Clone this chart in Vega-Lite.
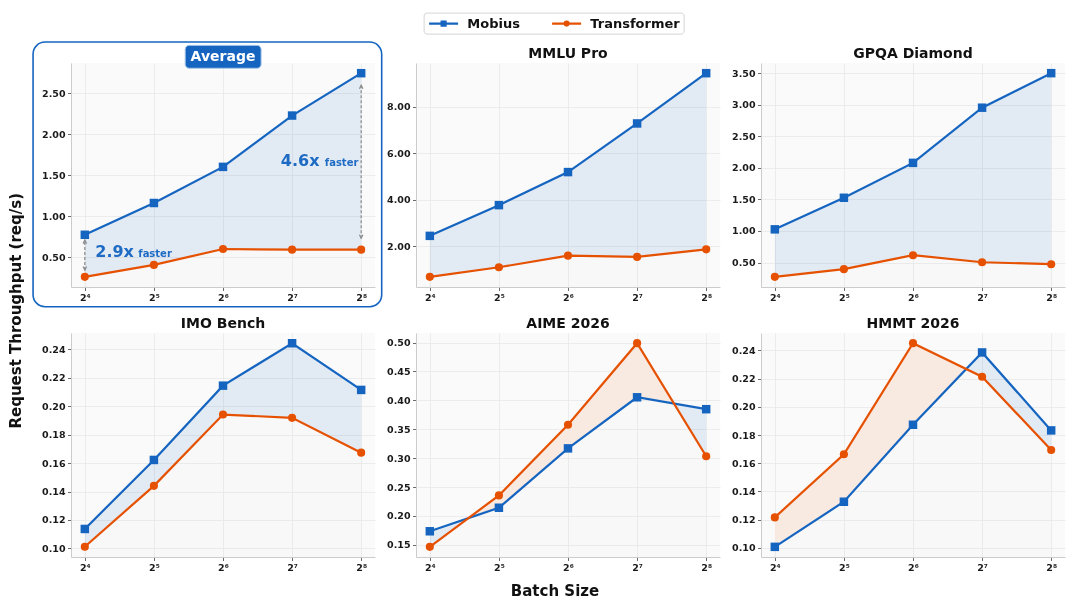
{
  "$schema": "https://vega.github.io/schema/vega-lite/v6.json",
  "background": "white",
  "padding": {"left": 8, "top": 12, "right": 5, "bottom": 5},
  "data": {
    "values": [
      {"panel": "Average", "model": "Mobius", "batch": 16, "value": 0.774},
      {"panel": "Average", "model": "Mobius", "batch": 32, "value": 1.161},
      {"panel": "Average", "model": "Mobius", "batch": 64, "value": 1.601},
      {"panel": "Average", "model": "Mobius", "batch": 128, "value": 2.226},
      {"panel": "Average", "model": "Mobius", "batch": 256, "value": 2.742},
      {"panel": "Average", "model": "Transformer", "batch": 16, "value": 0.262},
      {"panel": "Average", "model": "Transformer", "batch": 32, "value": 0.407},
      {"panel": "Average", "model": "Transformer", "batch": 64, "value": 0.601},
      {"panel": "Average", "model": "Transformer", "batch": 128, "value": 0.593},
      {"panel": "Average", "model": "Transformer", "batch": 256, "value": 0.593},
      {"panel": "MMLU Pro", "model": "Mobius", "batch": 16, "value": 2.45},
      {"panel": "MMLU Pro", "model": "Mobius", "batch": 32, "value": 3.77},
      {"panel": "MMLU Pro", "model": "Mobius", "batch": 64, "value": 5.19},
      {"panel": "MMLU Pro", "model": "Mobius", "batch": 128, "value": 7.28},
      {"panel": "MMLU Pro", "model": "Mobius", "batch": 256, "value": 9.44},
      {"panel": "MMLU Pro", "model": "Transformer", "batch": 16, "value": 0.69},
      {"panel": "MMLU Pro", "model": "Transformer", "batch": 32, "value": 1.10},
      {"panel": "MMLU Pro", "model": "Transformer", "batch": 64, "value": 1.60},
      {"panel": "MMLU Pro", "model": "Transformer", "batch": 128, "value": 1.545},
      {"panel": "MMLU Pro", "model": "Transformer", "batch": 256, "value": 1.87},
      {"panel": "GPQA Diamond", "model": "Mobius", "batch": 16, "value": 1.026},
      {"panel": "GPQA Diamond", "model": "Mobius", "batch": 32, "value": 1.526},
      {"panel": "GPQA Diamond", "model": "Mobius", "batch": 64, "value": 2.079},
      {"panel": "GPQA Diamond", "model": "Mobius", "batch": 128, "value": 2.953},
      {"panel": "GPQA Diamond", "model": "Mobius", "batch": 256, "value": 3.50},
      {"panel": "GPQA Diamond", "model": "Transformer", "batch": 16, "value": 0.274},
      {"panel": "GPQA Diamond", "model": "Transformer", "batch": 32, "value": 0.395},
      {"panel": "GPQA Diamond", "model": "Transformer", "batch": 64, "value": 0.616},
      {"panel": "GPQA Diamond", "model": "Transformer", "batch": 128, "value": 0.505},
      {"panel": "GPQA Diamond", "model": "Transformer", "batch": 256, "value": 0.474},
      {"panel": "IMO Bench", "model": "Mobius", "batch": 16, "value": 0.1137},
      {"panel": "IMO Bench", "model": "Mobius", "batch": 32, "value": 0.1622},
      {"panel": "IMO Bench", "model": "Mobius", "batch": 64, "value": 0.2144},
      {"panel": "IMO Bench", "model": "Mobius", "batch": 128, "value": 0.2442},
      {"panel": "IMO Bench", "model": "Mobius", "batch": 256, "value": 0.2114},
      {"panel": "IMO Bench", "model": "Transformer", "batch": 16, "value": 0.1012},
      {"panel": "IMO Bench", "model": "Transformer", "batch": 32, "value": 0.144},
      {"panel": "IMO Bench", "model": "Transformer", "batch": 64, "value": 0.1941},
      {"panel": "IMO Bench", "model": "Transformer", "batch": 128, "value": 0.1918},
      {"panel": "IMO Bench", "model": "Transformer", "batch": 256, "value": 0.1673},
      {"panel": "AIME 2026", "model": "Mobius", "batch": 16, "value": 0.1735},
      {"panel": "AIME 2026", "model": "Mobius", "batch": 32, "value": 0.2142},
      {"panel": "AIME 2026", "model": "Mobius", "batch": 64, "value": 0.3169},
      {"panel": "AIME 2026", "model": "Mobius", "batch": 128, "value": 0.4053},
      {"panel": "AIME 2026", "model": "Mobius", "batch": 256, "value": 0.3847},
      {"panel": "AIME 2026", "model": "Transformer", "batch": 16, "value": 0.1466},
      {"panel": "AIME 2026", "model": "Transformer", "batch": 32, "value": 0.2355},
      {"panel": "AIME 2026", "model": "Transformer", "batch": 64, "value": 0.3577},
      {"panel": "AIME 2026", "model": "Transformer", "batch": 128, "value": 0.4989},
      {"panel": "AIME 2026", "model": "Transformer", "batch": 256, "value": 0.3032},
      {"panel": "HMMT 2026", "model": "Mobius", "batch": 16, "value": 0.1007},
      {"panel": "HMMT 2026", "model": "Mobius", "batch": 32, "value": 0.1327},
      {"panel": "HMMT 2026", "model": "Mobius", "batch": 64, "value": 0.1873},
      {"panel": "HMMT 2026", "model": "Mobius", "batch": 128, "value": 0.2386},
      {"panel": "HMMT 2026", "model": "Mobius", "batch": 256, "value": 0.1833},
      {"panel": "HMMT 2026", "model": "Transformer", "batch": 16, "value": 0.1216},
      {"panel": "HMMT 2026", "model": "Transformer", "batch": 32, "value": 0.1664},
      {"panel": "HMMT 2026", "model": "Transformer", "batch": 64, "value": 0.2452},
      {"panel": "HMMT 2026", "model": "Transformer", "batch": 128, "value": 0.2214},
      {"panel": "HMMT 2026", "model": "Transformer", "batch": 256, "value": 0.1694}
    ]
  },
  "bounds": "flush",
  "align": "all",
  "columns": 3,
  "spacing": {"row": 46, "column": 41},
  "concat": [
    {
      "width": 304, "height": 224,
      "layer": [
        {
          "transform": [{"filter": "datum.panel == 'Average'"}],
          "encoding": {"x": {"field": "batch", "type": "quantitative", "scale": {"type": "log", "base": 2, "domain": [13.929, 294.07], "nice": false}, "axis": {"values": [16, 32, 64, 128, 256], "labelExpr": "'2' + (datum.value == 16 ? '⁴' : datum.value == 32 ? '⁵' : datum.value == 64 ? '⁶' : datum.value == 128 ? '⁷' : '⁸')", "title": null}}},
          "layer": [
            {
              "transform": [{"pivot": "model", "value": "value", "groupby": ["batch"]}],
              "layer": [
                {"mark": {"type": "area", "blend": "multiply", "fill": "rgb(225,219,220)"}, "encoding": {"y": {"field": "Mobius", "type": "quantitative", "scale": {"domain": [0.138, 2.866], "zero": false, "nice": false}, "axis": {"values": [0.5, 1, 1.5, 2, 2.5], "format": ".2f", "title": "Request Throughput (req/s)", "titleFontSize": 15, "titleY": 247.3, "titlePadding": 17.7}}, "y2": {"datum": 0.138}}},
                {"mark": {"type": "area", "blend": "color-dodge", "fill": "rgb(30,36,35)"}, "encoding": {"y": {"field": "Transformer", "type": "quantitative", "scale": {"domain": [0.138, 2.866], "zero": false, "nice": false}}, "y2": {"datum": 0.138}}},
                {"mark": {"type": "area", "blend": "multiply", "fill": "rgb(248,233,225)"}, "encoding": {"y": {"field": "Transformer", "type": "quantitative", "scale": {"domain": [0.138, 2.866], "zero": false, "nice": false}}, "y2": {"datum": 0.138}}},
                {"mark": {"type": "area", "blend": "color-dodge", "fill": "rgb(7,22,30)"}, "encoding": {"y": {"field": "Mobius", "type": "quantitative", "scale": {"domain": [0.138, 2.866], "zero": false, "nice": false}}, "y2": {"datum": 0.138}}}
              ]
            },
            {"mark": {"type": "line", "strokeWidth": 2.2}, "encoding": {"y": {"field": "value", "type": "quantitative", "scale": {"domain": [0.138, 2.866], "zero": false, "nice": false}}, "color": {"field": "model", "type": "nominal", "scale": {"domain": ["Mobius", "Transformer"], "range": ["#1565c0", "#e65100"]}}}},
            {"transform": [{"filter": "datum.model == 'Mobius'"}], "mark": {"type": "point", "shape": "square", "filled": true, "opacity": 1, "size": 72}, "encoding": {"y": {"field": "value", "type": "quantitative", "scale": {"domain": [0.138, 2.866], "zero": false, "nice": false}}, "color": {"field": "model", "type": "nominal"}}},
            {"transform": [{"filter": "datum.model == 'Transformer'"}], "mark": {"type": "point", "shape": "circle", "filled": true, "opacity": 1, "size": 66}, "encoding": {"y": {"field": "value", "type": "quantitative", "scale": {"domain": [0.138, 2.866], "zero": false, "nice": false}}, "color": {"field": "model", "type": "nominal"}}},
            {"mark": {"type": "point", "filled": false, "opacity": 0}, "encoding": {"y": {"field": "value", "type": "quantitative", "scale": {"domain": [0.138, 2.866], "zero": false, "nice": false}}, "color": {"field": "model", "type": "nominal", "scale": {"domain": ["Mobius", "Transformer"], "range": ["#1565c0", "#e65100"]}, "legend": {"orient": "none", "legendX": 352.6, "legendY": -50.4, "direction": "horizontal", "title": null, "labelFont": "DejaVu Sans", "labelFontSize": 13, "labelFontWeight": "bold", "labelColor": "#111111", "labelOffset": 15.7, "columnPadding": 27, "symbolSize": 169, "symbolOffset": 9, "symbolStrokeWidth": 2.2, "symbolOpacity": 1, "padding": 3, "fillColor": "white", "strokeColor": "#d4d4d4", "cornerRadius": 3}}, "shape": {"field": "model", "type": "nominal", "scale": {"domain": ["Mobius", "Transformer"], "range": ["M-2.23,0H2.23M-0.3,-0.3H0.3V0.3H-0.3Z", "M-2.23,0H2.23M0.3,0A0.3,0.3,0,1,1,-0.3,0A0.3,0.3,0,1,1,0.3,0Z"]}, "legend": {"orient": "none", "legendX": 352.6, "legendY": -50.4, "direction": "horizontal", "title": null, "labelFont": "DejaVu Sans", "labelFontSize": 13, "labelFontWeight": "bold", "labelColor": "#111111", "labelOffset": 15.7, "columnPadding": 27, "symbolSize": 169, "symbolOffset": 9, "symbolStrokeWidth": 2.2, "symbolOpacity": 1, "padding": 3, "fillColor": "white", "strokeColor": "#d4d4d4", "cornerRadius": 3}}}}
          ]
        },
        {"data": {"values": [{"n": 1}]}, "mark": {"type": "rect", "filled": false, "stroke": "#1565c0", "strokeWidth": 1.6, "cornerRadius": 12}, "encoding": {"x": {"datum": 9.52, "scale": {"type": "log", "base": 2, "domain": [13.929, 294.07], "nice": false}}, "x2": {"datum": 314.5}, "y": {"datum": -0.102, "scale": {"domain": [0.138, 2.866], "zero": false, "nice": false}}, "y2": {"datum": 3.121}}},
        {"data": {"values": [{"n": 1}]}, "mark": {"type": "rect", "fill": "#1565c0", "stroke": "#a9c7ea", "strokeWidth": 1, "cornerRadius": 4}, "encoding": {"x": {"datum": 43.8}, "x2": {"datum": 93.8}, "y": {"datum": 2.802}, "y2": {"datum": 3.081}}},
        {"data": {"values": [{"n": 1}]}, "mark": {"type": "text", "text": "Average", "color": "white", "fontSize": 14, "fontWeight": "bold", "align": "center", "baseline": "middle"}, "encoding": {"x": {"datum": 64}, "y": {"datum": 2.941}}},
        {"data": {"values": [{"n": 1}]}, "mark": {"type": "rule", "color": "#8a8a8a", "strokeWidth": 1.2, "strokeDash": [3, 2]}, "encoding": {"x": {"datum": 16}, "y": {"datum": 0.344}, "y2": {"datum": 0.709}}},
        {"data": {"values": [{"n": 1}]}, "mark": {"type": "rule", "color": "#8a8a8a", "strokeWidth": 1.2, "strokeDash": [3, 2]}, "encoding": {"x": {"datum": 256}, "y": {"datum": 0.733}, "y2": {"datum": 2.595}}},
        {"data": {"values": [{"n": 1}]}, "mark": {"type": "point", "shape": "M-0.7,1.4L0,0L0.7,1.4", "filled": false, "stroke": "#8a8a8a", "strokeWidth": 1.2, "size": 25, "opacity": 1}, "encoding": {"x": {"datum": 16}, "y": {"datum": 0.709}}},
        {"data": {"values": [{"n": 1}]}, "mark": {"type": "point", "shape": "M-0.7,-1.4L0,0L0.7,-1.4", "filled": false, "stroke": "#8a8a8a", "strokeWidth": 1.2, "size": 25, "opacity": 1}, "encoding": {"x": {"datum": 16}, "y": {"datum": 0.344}}},
        {"data": {"values": [{"n": 1}]}, "mark": {"type": "point", "shape": "M-0.7,1.4L0,0L0.7,1.4", "filled": false, "stroke": "#8a8a8a", "strokeWidth": 1.2, "size": 25, "opacity": 1}, "encoding": {"x": {"datum": 256}, "y": {"datum": 2.595}}},
        {"data": {"values": [{"n": 1}]}, "mark": {"type": "point", "shape": "M-0.7,-1.4L0,0L0.7,-1.4", "filled": false, "stroke": "#8a8a8a", "strokeWidth": 1.2, "size": 25, "opacity": 1}, "encoding": {"x": {"datum": 256}, "y": {"datum": 0.733}}},
        {"data": {"values": [{"n": 1}]}, "mark": {"type": "text", "text": "2.9x", "color": "#1e6bc4", "fontSize": 16, "fontWeight": "bold", "align": "left", "baseline": "alphabetic"}, "encoding": {"x": {"datum": 17.77}, "y": {"datum": 0.502}}},
        {"data": {"values": [{"n": 1}]}, "mark": {"type": "text", "text": "faster", "color": "#1e6bc4", "fontSize": 10, "fontWeight": "bold", "align": "left", "baseline": "alphabetic", "dx": 43}, "encoding": {"x": {"datum": 17.77}, "y": {"datum": 0.502}}},
        {"data": {"values": [{"n": 1}]}, "mark": {"type": "text", "text": "4.6x", "color": "#1e6bc4", "fontSize": 16, "fontWeight": "bold", "align": "left", "baseline": "alphabetic"}, "encoding": {"x": {"datum": 114.3}, "y": {"datum": 1.609}}},
        {"data": {"values": [{"n": 1}]}, "mark": {"type": "text", "text": "faster", "color": "#1e6bc4", "fontSize": 10, "fontWeight": "bold", "align": "left", "baseline": "alphabetic", "dx": 44}, "encoding": {"x": {"datum": 114.3}, "y": {"datum": 1.609}}}
      ]
    },
    {
      "title": "MMLU Pro",
      "width": 304, "height": 224,
      "transform": [{"filter": "datum.panel == 'MMLU Pro'"}],
      "encoding": {"x": {"field": "batch", "type": "quantitative", "scale": {"type": "log", "base": 2, "domain": [13.929, 294.07], "nice": false}, "axis": {"values": [16, 32, 64, 128, 256], "labelExpr": "'2' + (datum.value == 16 ? '⁴' : datum.value == 32 ? '⁵' : datum.value == 64 ? '⁶' : datum.value == 128 ? '⁷' : '⁸')", "title": null}}},
      "layer": [
        {
          "transform": [{"pivot": "model", "value": "value", "groupby": ["batch"]}],
          "layer": [
            {"mark": {"type": "area", "blend": "multiply", "fill": "rgb(225,219,220)"}, "encoding": {"y": {"field": "Mobius", "type": "quantitative", "scale": {"domain": [0.2525, 9.8775], "zero": false, "nice": false}, "axis": {"values": [2, 4, 6, 8], "format": ".2f", "title": null}}, "y2": {"datum": 0.2525}}},
            {"mark": {"type": "area", "blend": "color-dodge", "fill": "rgb(30,36,35)"}, "encoding": {"y": {"field": "Transformer", "type": "quantitative", "scale": {"domain": [0.2525, 9.8775], "zero": false, "nice": false}}, "y2": {"datum": 0.2525}}},
            {"mark": {"type": "area", "blend": "multiply", "fill": "rgb(248,233,225)"}, "encoding": {"y": {"field": "Transformer", "type": "quantitative", "scale": {"domain": [0.2525, 9.8775], "zero": false, "nice": false}}, "y2": {"datum": 0.2525}}},
            {"mark": {"type": "area", "blend": "color-dodge", "fill": "rgb(7,22,30)"}, "encoding": {"y": {"field": "Mobius", "type": "quantitative", "scale": {"domain": [0.2525, 9.8775], "zero": false, "nice": false}}, "y2": {"datum": 0.2525}}}
          ]
        },
        {"mark": {"type": "line", "strokeWidth": 2.2}, "encoding": {"y": {"field": "value", "type": "quantitative", "scale": {"domain": [0.2525, 9.8775], "zero": false, "nice": false}}, "color": {"field": "model", "type": "nominal"}}},
        {"transform": [{"filter": "datum.model == 'Mobius'"}], "mark": {"type": "point", "shape": "square", "filled": true, "opacity": 1, "size": 72}, "encoding": {"y": {"field": "value", "type": "quantitative", "scale": {"domain": [0.2525, 9.8775], "zero": false, "nice": false}}, "color": {"field": "model", "type": "nominal"}}},
        {"transform": [{"filter": "datum.model == 'Transformer'"}], "mark": {"type": "point", "shape": "circle", "filled": true, "opacity": 1, "size": 66}, "encoding": {"y": {"field": "value", "type": "quantitative", "scale": {"domain": [0.2525, 9.8775], "zero": false, "nice": false}}, "color": {"field": "model", "type": "nominal"}}}
      ]
    },
    {
      "title": "GPQA Diamond",
      "width": 304, "height": 224,
      "transform": [{"filter": "datum.panel == 'GPQA Diamond'"}],
      "encoding": {"x": {"field": "batch", "type": "quantitative", "scale": {"type": "log", "base": 2, "domain": [13.929, 294.07], "nice": false}, "axis": {"values": [16, 32, 64, 128, 256], "labelExpr": "'2' + (datum.value == 16 ? '⁴' : datum.value == 32 ? '⁵' : datum.value == 64 ? '⁶' : datum.value == 128 ? '⁷' : '⁸')", "title": null}}},
      "layer": [
        {
          "transform": [{"pivot": "model", "value": "value", "groupby": ["batch"]}],
          "layer": [
            {"mark": {"type": "area", "blend": "multiply", "fill": "rgb(225,219,220)"}, "encoding": {"y": {"field": "Mobius", "type": "quantitative", "scale": {"domain": [0.1127, 3.661], "zero": false, "nice": false}, "axis": {"values": [0.5, 1, 1.5, 2, 2.5, 3, 3.5], "format": ".2f", "title": null}}, "y2": {"datum": 0.1127}}},
            {"mark": {"type": "area", "blend": "color-dodge", "fill": "rgb(30,36,35)"}, "encoding": {"y": {"field": "Transformer", "type": "quantitative", "scale": {"domain": [0.1127, 3.661], "zero": false, "nice": false}}, "y2": {"datum": 0.1127}}},
            {"mark": {"type": "area", "blend": "multiply", "fill": "rgb(248,233,225)"}, "encoding": {"y": {"field": "Transformer", "type": "quantitative", "scale": {"domain": [0.1127, 3.661], "zero": false, "nice": false}}, "y2": {"datum": 0.1127}}},
            {"mark": {"type": "area", "blend": "color-dodge", "fill": "rgb(7,22,30)"}, "encoding": {"y": {"field": "Mobius", "type": "quantitative", "scale": {"domain": [0.1127, 3.661], "zero": false, "nice": false}}, "y2": {"datum": 0.1127}}}
          ]
        },
        {"mark": {"type": "line", "strokeWidth": 2.2}, "encoding": {"y": {"field": "value", "type": "quantitative", "scale": {"domain": [0.1127, 3.661], "zero": false, "nice": false}}, "color": {"field": "model", "type": "nominal"}}},
        {"transform": [{"filter": "datum.model == 'Mobius'"}], "mark": {"type": "point", "shape": "square", "filled": true, "opacity": 1, "size": 72}, "encoding": {"y": {"field": "value", "type": "quantitative", "scale": {"domain": [0.1127, 3.661], "zero": false, "nice": false}}, "color": {"field": "model", "type": "nominal"}}},
        {"transform": [{"filter": "datum.model == 'Transformer'"}], "mark": {"type": "point", "shape": "circle", "filled": true, "opacity": 1, "size": 66}, "encoding": {"y": {"field": "value", "type": "quantitative", "scale": {"domain": [0.1127, 3.661], "zero": false, "nice": false}}, "color": {"field": "model", "type": "nominal"}}}
      ]
    },
    {
      "title": "IMO Bench",
      "width": 304, "height": 224,
      "transform": [{"filter": "datum.panel == 'IMO Bench'"}],
      "encoding": {"x": {"field": "batch", "type": "quantitative", "scale": {"type": "log", "base": 2, "domain": [13.929, 294.07], "nice": false}, "axis": {"values": [16, 32, 64, 128, 256], "labelExpr": "'2' + (datum.value == 16 ? '⁴' : datum.value == 32 ? '⁵' : datum.value == 64 ? '⁶' : datum.value == 128 ? '⁷' : '⁸')", "title": null}}},
      "layer": [
        {
          "transform": [{"pivot": "model", "value": "value", "groupby": ["batch"]}],
          "layer": [
            {"mark": {"type": "area", "blend": "multiply", "fill": "rgb(225,219,220)"}, "encoding": {"y": {"field": "Mobius", "type": "quantitative", "scale": {"domain": [0.094, 0.2514], "zero": false, "nice": false}, "axis": {"values": [0.1, 0.12, 0.14, 0.16, 0.18, 0.2, 0.22, 0.24], "format": ".2f", "title": null}}, "y2": {"datum": 0.094}}},
            {"mark": {"type": "area", "blend": "color-dodge", "fill": "rgb(30,36,35)"}, "encoding": {"y": {"field": "Transformer", "type": "quantitative", "scale": {"domain": [0.094, 0.2514], "zero": false, "nice": false}}, "y2": {"datum": 0.094}}},
            {"mark": {"type": "area", "blend": "multiply", "fill": "rgb(248,233,225)"}, "encoding": {"y": {"field": "Transformer", "type": "quantitative", "scale": {"domain": [0.094, 0.2514], "zero": false, "nice": false}}, "y2": {"datum": 0.094}}},
            {"mark": {"type": "area", "blend": "color-dodge", "fill": "rgb(7,22,30)"}, "encoding": {"y": {"field": "Mobius", "type": "quantitative", "scale": {"domain": [0.094, 0.2514], "zero": false, "nice": false}}, "y2": {"datum": 0.094}}}
          ]
        },
        {"mark": {"type": "line", "strokeWidth": 2.2}, "encoding": {"y": {"field": "value", "type": "quantitative", "scale": {"domain": [0.094, 0.2514], "zero": false, "nice": false}}, "color": {"field": "model", "type": "nominal"}}},
        {"transform": [{"filter": "datum.model == 'Mobius'"}], "mark": {"type": "point", "shape": "square", "filled": true, "opacity": 1, "size": 72}, "encoding": {"y": {"field": "value", "type": "quantitative", "scale": {"domain": [0.094, 0.2514], "zero": false, "nice": false}}, "color": {"field": "model", "type": "nominal"}}},
        {"transform": [{"filter": "datum.model == 'Transformer'"}], "mark": {"type": "point", "shape": "circle", "filled": true, "opacity": 1, "size": 66}, "encoding": {"y": {"field": "value", "type": "quantitative", "scale": {"domain": [0.094, 0.2514], "zero": false, "nice": false}}, "color": {"field": "model", "type": "nominal"}}}
      ]
    },
    {
      "title": "AIME 2026",
      "width": 304, "height": 224,
      "transform": [{"filter": "datum.panel == 'AIME 2026'"}],
      "encoding": {"x": {"field": "batch", "type": "quantitative", "scale": {"type": "log", "base": 2, "domain": [13.929, 294.07], "nice": false}, "axis": {"values": [16, 32, 64, 128, 256], "labelExpr": "'2' + (datum.value == 16 ? '⁴' : datum.value == 32 ? '⁵' : datum.value == 64 ? '⁶' : datum.value == 128 ? '⁷' : '⁸')", "title": "Batch Size", "titleFontSize": 15, "titlePadding": 12, "titleX": 138.5}}},
      "layer": [
        {
          "transform": [{"pivot": "model", "value": "value", "groupby": ["batch"]}],
          "layer": [
            {"mark": {"type": "area", "blend": "multiply", "fill": "rgb(225,219,220)"}, "encoding": {"y": {"field": "Mobius", "type": "quantitative", "scale": {"domain": [0.129, 0.5165], "zero": false, "nice": false}, "axis": {"values": [0.15, 0.2, 0.25, 0.3, 0.35, 0.4, 0.45, 0.5], "format": ".2f", "title": null}}, "y2": {"datum": 0.129}}},
            {"mark": {"type": "area", "blend": "color-dodge", "fill": "rgb(30,36,35)"}, "encoding": {"y": {"field": "Transformer", "type": "quantitative", "scale": {"domain": [0.129, 0.5165], "zero": false, "nice": false}}, "y2": {"datum": 0.129}}},
            {"mark": {"type": "area", "blend": "multiply", "fill": "rgb(248,233,225)"}, "encoding": {"y": {"field": "Transformer", "type": "quantitative", "scale": {"domain": [0.129, 0.5165], "zero": false, "nice": false}}, "y2": {"datum": 0.129}}},
            {"mark": {"type": "area", "blend": "color-dodge", "fill": "rgb(7,22,30)"}, "encoding": {"y": {"field": "Mobius", "type": "quantitative", "scale": {"domain": [0.129, 0.5165], "zero": false, "nice": false}}, "y2": {"datum": 0.129}}}
          ]
        },
        {"mark": {"type": "line", "strokeWidth": 2.2}, "encoding": {"y": {"field": "value", "type": "quantitative", "scale": {"domain": [0.129, 0.5165], "zero": false, "nice": false}}, "color": {"field": "model", "type": "nominal"}}},
        {"transform": [{"filter": "datum.model == 'Mobius'"}], "mark": {"type": "point", "shape": "square", "filled": true, "opacity": 1, "size": 72}, "encoding": {"y": {"field": "value", "type": "quantitative", "scale": {"domain": [0.129, 0.5165], "zero": false, "nice": false}}, "color": {"field": "model", "type": "nominal"}}},
        {"transform": [{"filter": "datum.model == 'Transformer'"}], "mark": {"type": "point", "shape": "circle", "filled": true, "opacity": 1, "size": 66}, "encoding": {"y": {"field": "value", "type": "quantitative", "scale": {"domain": [0.129, 0.5165], "zero": false, "nice": false}}, "color": {"field": "model", "type": "nominal"}}}
      ]
    },
    {
      "title": "HMMT 2026",
      "width": 304, "height": 224,
      "transform": [{"filter": "datum.panel == 'HMMT 2026'"}],
      "encoding": {"x": {"field": "batch", "type": "quantitative", "scale": {"type": "log", "base": 2, "domain": [13.929, 294.07], "nice": false}, "axis": {"values": [16, 32, 64, 128, 256], "labelExpr": "'2' + (datum.value == 16 ? '⁴' : datum.value == 32 ? '⁵' : datum.value == 64 ? '⁶' : datum.value == 128 ? '⁷' : '⁸')", "title": null}}},
      "layer": [
        {
          "transform": [{"pivot": "model", "value": "value", "groupby": ["batch"]}],
          "layer": [
            {"mark": {"type": "area", "blend": "multiply", "fill": "rgb(225,219,220)"}, "encoding": {"y": {"field": "Mobius", "type": "quantitative", "scale": {"domain": [0.0935, 0.2524], "zero": false, "nice": false}, "axis": {"values": [0.1, 0.12, 0.14, 0.16, 0.18, 0.2, 0.22, 0.24], "format": ".2f", "title": null}}, "y2": {"datum": 0.0935}}},
            {"mark": {"type": "area", "blend": "color-dodge", "fill": "rgb(30,36,35)"}, "encoding": {"y": {"field": "Transformer", "type": "quantitative", "scale": {"domain": [0.0935, 0.2524], "zero": false, "nice": false}}, "y2": {"datum": 0.0935}}},
            {"mark": {"type": "area", "blend": "multiply", "fill": "rgb(248,233,225)"}, "encoding": {"y": {"field": "Transformer", "type": "quantitative", "scale": {"domain": [0.0935, 0.2524], "zero": false, "nice": false}}, "y2": {"datum": 0.0935}}},
            {"mark": {"type": "area", "blend": "color-dodge", "fill": "rgb(7,22,30)"}, "encoding": {"y": {"field": "Mobius", "type": "quantitative", "scale": {"domain": [0.0935, 0.2524], "zero": false, "nice": false}}, "y2": {"datum": 0.0935}}}
          ]
        },
        {"mark": {"type": "line", "strokeWidth": 2.2}, "encoding": {"y": {"field": "value", "type": "quantitative", "scale": {"domain": [0.0935, 0.2524], "zero": false, "nice": false}}, "color": {"field": "model", "type": "nominal"}}},
        {"transform": [{"filter": "datum.model == 'Mobius'"}], "mark": {"type": "point", "shape": "square", "filled": true, "opacity": 1, "size": 72}, "encoding": {"y": {"field": "value", "type": "quantitative", "scale": {"domain": [0.0935, 0.2524], "zero": false, "nice": false}}, "color": {"field": "model", "type": "nominal"}}},
        {"transform": [{"filter": "datum.model == 'Transformer'"}], "mark": {"type": "point", "shape": "circle", "filled": true, "opacity": 1, "size": 66}, "encoding": {"y": {"field": "value", "type": "quantitative", "scale": {"domain": [0.0935, 0.2524], "zero": false, "nice": false}}, "color": {"field": "model", "type": "nominal"}}}
      ]
    }
  ],
  "resolve": {"scale": {"x": "independent", "y": "independent", "color": "shared", "shape": "shared"}},
  "config": {
    "font": "DejaVu Sans",
    "view": {"fill": "#fafafa", "stroke": null},
    "axis": {"labelFont": "DejaVu Sans", "labelFontWeight": "bold", "labelFontSize": 9.5, "labelColor": "#1a1a1a", "labelOverlap": false, "tickCount": 20, "tickColor": "#444444", "tickSize": 3.5, "tickWidth": 0.8, "domainColor": "#cccccc", "domainWidth": 1, "gridColor": "#e8e8e8", "gridWidth": 0.8, "titleFont": "DejaVu Sans", "titleFontWeight": "bold", "titleColor": "#111111"},
    "axisX": {"labelPadding": 1.5},
    "axisY": {"labelPadding": 2.5},
    "title": {"font": "DejaVu Sans", "fontSize": 14, "fontWeight": "bold", "color": "#111111", "offset": 2}
  }
}
